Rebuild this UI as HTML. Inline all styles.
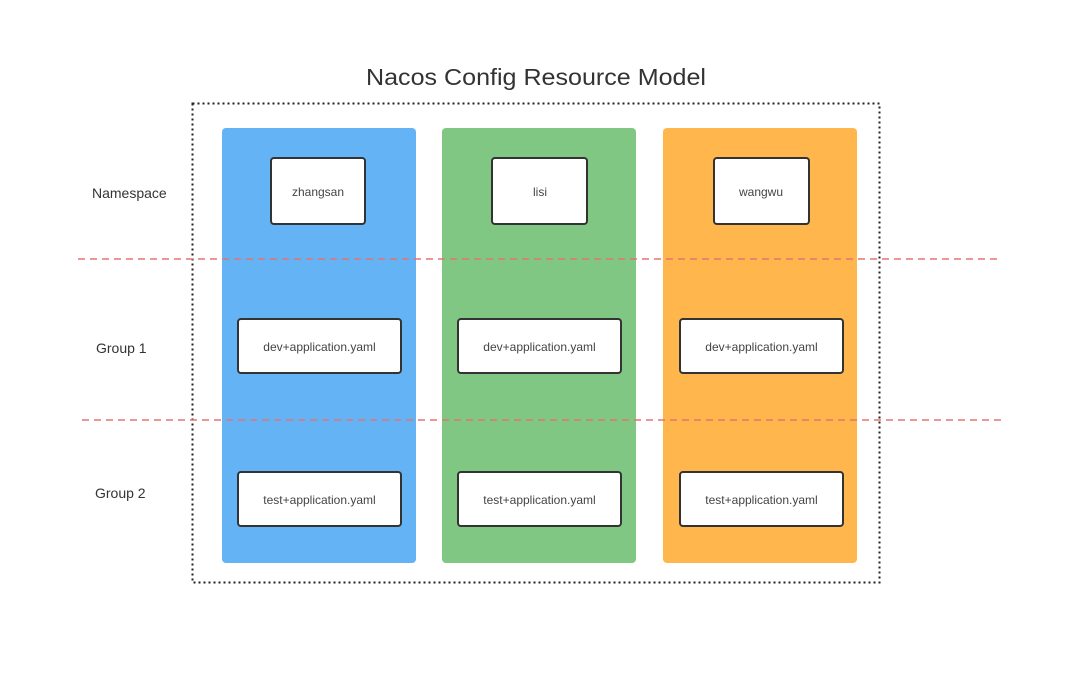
<!DOCTYPE html>
<html><head><meta charset="utf-8"><style>
html,body{margin:0;padding:0;background:#fff;}
svg{display:block;font-family:"Liberation Sans",sans-serif;}
</style></head><body>
<svg width="1080" height="692" viewBox="0 0 1080 692" xmlns="http://www.w3.org/2000/svg">
<rect width="1080" height="692" fill="#fff"/>
<text x="536" y="85" text-anchor="middle" font-size="23" fill="#333" textLength="340" lengthAdjust="spacingAndGlyphs">Nacos Config Resource Model</text>
<rect x="192.5" y="103.5" width="687" height="479" fill="none" stroke="#222" stroke-width="2" stroke-dasharray="2,3"/>
<rect x="222" y="128" width="194" height="435" rx="4" fill="#63b3f5"/>
<rect x="442" y="128" width="194" height="435" rx="4" fill="#7fc783"/>
<rect x="663" y="128" width="194" height="435" rx="4" fill="#ffb74d"/>
<g fill="#fff" stroke="#333" stroke-width="2">
<rect x="271" y="158" width="94" height="66" rx="3"/>
<rect x="492" y="158" width="95" height="66" rx="3"/>
<rect x="714" y="158" width="95" height="66" rx="3"/>
<rect x="238" y="319" width="163" height="54" rx="3"/>
<rect x="458" y="319" width="163" height="54" rx="3"/>
<rect x="680" y="319" width="163" height="54" rx="3"/>
<rect x="238" y="472" width="163" height="54" rx="3"/>
<rect x="458" y="472" width="163" height="54" rx="3"/>
<rect x="680" y="472" width="163" height="54" rx="3"/>
</g>
<g font-size="12" fill="#444" text-anchor="middle">
<text x="318" y="196">zhangsan</text>
<text x="540" y="196">lisi</text>
<text x="761" y="196">wangwu</text>
<text x="319.5" y="351">dev+application.yaml</text>
<text x="539.5" y="351">dev+application.yaml</text>
<text x="761.5" y="351">dev+application.yaml</text>
<text x="319.5" y="504">test+application.yaml</text>
<text x="539.5" y="504">test+application.yaml</text>
<text x="761.5" y="504">test+application.yaml</text>
</g>
<g stroke="#e57373" stroke-width="1.5" stroke-dasharray="7,5">
<line x1="78" y1="259" x2="1000" y2="259"/>
<line x1="82" y1="420" x2="1004" y2="420"/>
</g>
<g font-size="14" fill="#333">
<text x="92" y="198">Namespace</text>
<text x="96" y="353">Group 1</text>
<text x="95" y="498">Group 2</text>
</g>
</svg>
</body></html>
